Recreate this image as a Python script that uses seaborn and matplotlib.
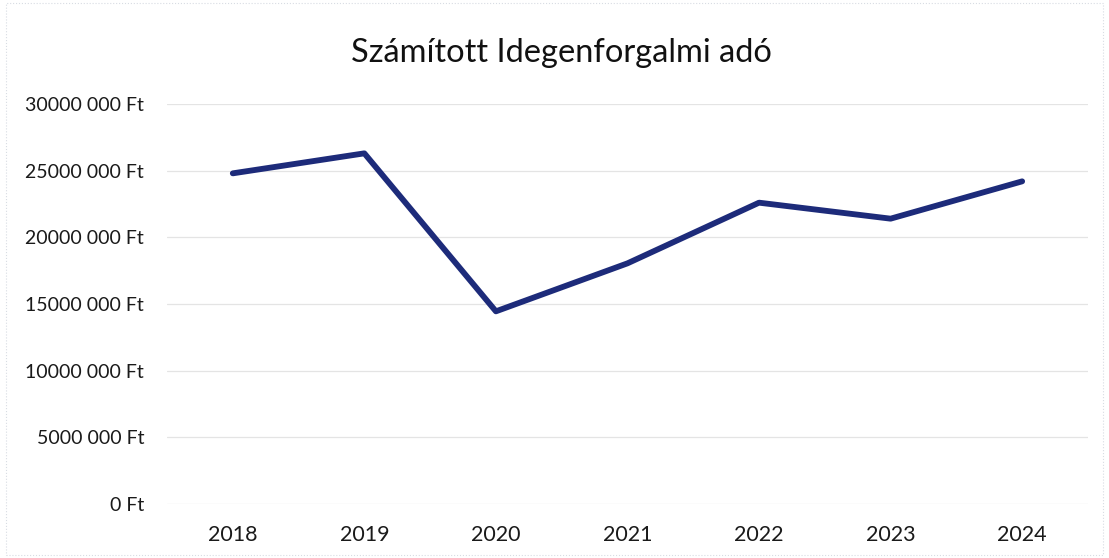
import pandas as pd
import matplotlib.pyplot as plt
import seaborn as sns
from matplotlib.ticker import FuncFormatter

sns.set_style('white')
plt.rcParams['font.family'] = ['Lato', 'DejaVu Sans']

years = ['2018', '2019', '2020', '2021', '2022', '2023', '2024']
tax = [24_800_000, 26_300_000, 14_450_000, 18_050_000, 22_600_000, 21_400_000, 24_200_000]
yticks = [0, 5_000_000, 10_000_000, 15_000_000, 20_000_000, 25_000_000, 30_000_000]

df = pd.DataFrame({'ev': years, 'ado': tax})


def ft(v, pos):
    v = int(v)
    if v >= 1000:
        return f"{v // 1000} {v % 1000:03d} Ft"
    return f"{v} Ft"


fig = plt.figure(figsize=(11.09, 5.58), dpi=100)
ax = fig.add_axes([0.1506, 0.0968, 0.8304, 0.7168])

sns.lineplot(data=df, x='ev', y='ado', ax=ax, color='#1d2b7a', linewidth=4.2, sort=False)

ax.set_xlim(-0.5, len(years) - 0.5)
ax.set_ylim(0, 30_000_000)
ax.set_yticks(yticks)
ax.yaxis.set_major_formatter(FuncFormatter(ft))
ax.grid(axis='y', color='#e4e4e4', linewidth=0.9)
ax.grid(axis='x', visible=False)
for s in ax.spines.values():
    s.set_visible(False)
ax.tick_params(axis='y', length=0, pad=16.5, labelsize=14, labelcolor='#1a1a1a')
ax.tick_params(axis='x', length=0, pad=15, labelsize=15.5, labelcolor='#1a1a1a')
ax.set_xlabel('')
ax.set_ylabel('')

fig.text(0.506, 0.905, 'Számított Idegenforgalmi adó', ha='center', va='center',
         fontsize=23.5, color='#111111')

fig.patches.append(plt.Rectangle((0.005, 0.005), 0.99, 0.99, transform=fig.transFigure,
                                 fill=False, edgecolor='#d8dce3', linewidth=0.8, linestyle=':'))

fig.savefig('out.png', dpi=100)
